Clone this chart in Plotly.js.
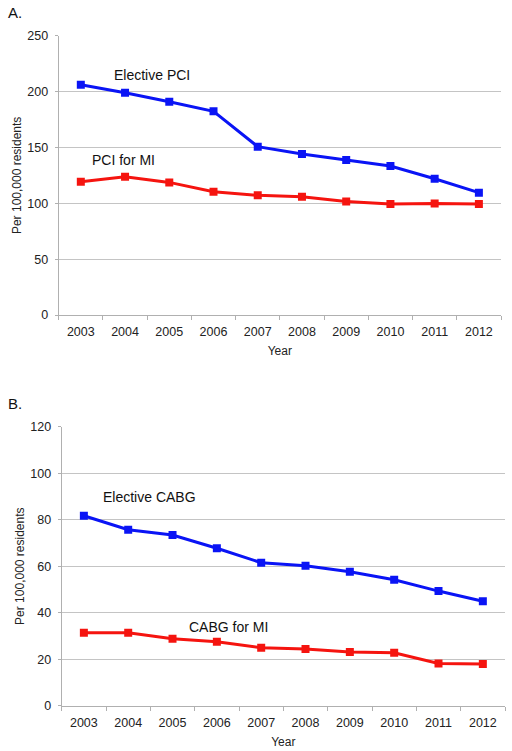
<!DOCTYPE html>
<html>
<head>
<meta charset="utf-8">
<script src="https://cdn.plot.ly/plotly-3.0.1.min.js"></script>
<style>
html,body{margin:0;padding:0;background:#fff;}
#chart{width:512px;height:751px;}
</style>
</head>
<body>
<div id="chart"></div>
<script>
// ---- data ----
const years = ["2003","2004","2005","2006","2007","2008","2009","2010","2011","2012"];
const electivePCI = [206.1, 199.0, 190.9, 182.3, 150.7, 144.1, 138.7, 133.4, 122.0, 109.5];
const pciForMI    = [119.3, 123.8, 118.7, 110.4, 107.1, 105.9, 101.7, 99.3, 99.9, 99.3];
const electiveCABG = [81.7, 75.7, 73.4, 67.7, 61.5, 60.2, 57.6, 54.2, 49.3, 44.9];
const cabgForMI    = [31.4, 31.4, 28.8, 27.5, 24.9, 24.4, 23.1, 22.8, 18.2, 17.9];
const yTicksA = [0, 50, 100, 150, 200, 250];
const yTicksB = [0, 20, 40, 60, 80, 100, 120];
const seriesLabels = ["Elective PCI", "PCI for MI", "Elective CABG", "CABG for MI"];
const panelLabels = ["A.", "B."];
const yTitle = "Per 100,000 residents";
const xTitle = "Year";

const BLUE = "#0a14f5", RED = "#f5140f";
const FONT = "Liberation Sans, Arial, Helvetica, sans-serif";
const W = 512, H = 751;

function line(x, y, color, xa, ya) {
  return {
    type: "scatter", mode: "lines+markers", x: x, y: y,
    xaxis: xa, yaxis: ya,
    line: {color: color, width: 3},
    marker: {symbol: "square", size: 8, color: color},
    hoverinfo: "skip", showlegend: false
  };
}

const data = [
  line(years, electivePCI, BLUE, "x", "y"),
  line(years, pciForMI, RED, "x", "y"),
  line(years, electiveCABG, BLUE, "x2", "y2"),
  line(years, cabgForMI, RED, "x2", "y2")
];

function xax(domain, anchor) {
  return {
    domain: domain, anchor: anchor, type: "category",
    range: [-0.5, 9.5], tickson: "boundaries",
    ticks: "outside", ticklen: 4, tickcolor: "#b0b0b0", tickwidth: 1,
    ticklabelstandoff: 5,
    showline: true, linecolor: "#b0b0b0", linewidth: 1,
    showgrid: false, zeroline: false,
    tickfont: {family: FONT, size: 12.5, color: "#222"},
    title: {text: xTitle, font: {family: FONT, size: 12, color: "#222"}, standoff: 8}
  };
}
function yax(domain, anchor, ticks, max) {
  return {
    domain: domain, anchor: anchor, range: [0, max],
    tickvals: ticks, ticktext: ticks.map(String),
    ticks: "outside", ticklen: 3, tickcolor: "#b0b0b0",
    ticklabelstandoff: 4,
    showline: true, linecolor: "#b0b0b0", linewidth: 1,
    showgrid: true, gridcolor: "#c4c4c4", gridwidth: 1,
    zeroline: false,
    tickfont: {family: FONT, size: 12.5, color: "#222"},
    title: {text: yTitle, font: {family: FONT, size: 12, color: "#222"}, standoff: 3}
  };
}

const layout = {
  width: W, height: H,
  margin: {l: 0, r: 0, t: 0, b: 0},
  paper_bgcolor: "#fff", plot_bgcolor: "#fff",
  xaxis: xax([58.7 / W, 501 / W], "y"),
  yaxis: yax([(H - 315) / H, (H - 35.7) / H], "x", yTicksA, 250),
  xaxis2: xax([61.7 / W, 505 / W], "y2"),
  yaxis2: yax([(H - 705.7) / H, (H - 426.7) / H], "x2", yTicksB, 120),
  annotations: [
    {text: seriesLabels[0], xref: "x", yref: "y", x: 1.6, y: 214.8, showarrow: false,
     font: {family: FONT, size: 14, color: "#111"}},
    {text: seriesLabels[1], xref: "x", yref: "y", x: 0.965, y: 138.7, showarrow: false,
     font: {family: FONT, size: 14, color: "#111"}},
    {text: seriesLabels[2], xref: "x2", yref: "y2", x: 1.48, y: 89.8, showarrow: false,
     font: {family: FONT, size: 14, color: "#111"}},
    {text: seriesLabels[3], xref: "x2", yref: "y2", x: 3.27, y: 33.8, showarrow: false,
     font: {family: FONT, size: 14, color: "#111"}},
    {text: panelLabels[0], xref: "paper", yref: "paper", x: 6 / W, y: 1 - 13 / H,
     xanchor: "left", yanchor: "middle", showarrow: false,
     font: {family: FONT, size: 15, color: "#111"}},
    {text: panelLabels[1], xref: "paper", yref: "paper", x: 6 / W, y: 1 - 403 / H,
     xanchor: "left", yanchor: "middle", showarrow: false,
     font: {family: FONT, size: 15, color: "#111"}}
  ]
};

Plotly.newPlot("chart", data, layout, {staticPlot: true, displayModeBar: false});
</script>
</body>
</html>
